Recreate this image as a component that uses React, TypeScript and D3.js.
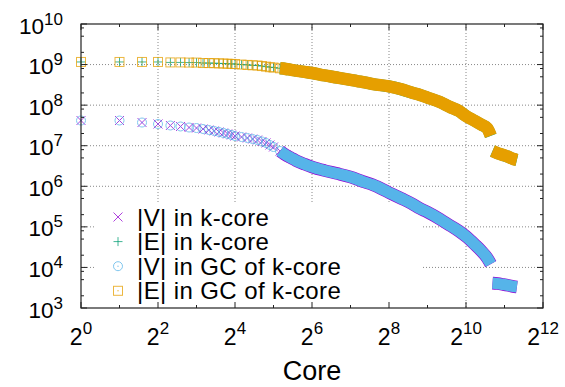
import * as d3 from "d3";

// core numbers (k) for the main part of the curves
const cores = [1, 2, 3, 4, 5, 6, 7, 8, 9, 10, 11, 12, 13, 14, 15, 16, 18, 20, 22, 24, 26, 28, 30, 32, 36, 40, 44, 48, 56, 64, 80, 100, 128, 160, 192, 256, 320, 384, 448, 512, 640, 768, 900, 1024, 1200, 1350, 1500, 1600];

// |E| (edges) - the k-core and its giant component overlap at this size
const edgesKCore = [1.16e9, 1.16e9, 1.16e9, 1.16e9, 1.13e9, 1.13e9, 1.12e9, 1.12e9, 1.09e9, 1.09e9, 1.08e9, 1.07e9, 1.06e9, 1.05e9, 1.04e9, 1.03e9, 1.0e9, 9.8e8, 9.6e8, 9.5e8, 9.2e8, 8.9e8, 8.6e8, 8.45e8, 8.1e8, 7.8e8, 7.4e8, 7.1e8, 6.6e8, 6.2e8, 5.4e8, 4.8e8, 4.2e8, 3.7e8, 3.3e8, 2.9e8, 2.45e8, 2.05e8, 1.78e8, 1.54e8, 1.19e8, 9.0e7, 7.2e7, 5.4e7, 4.1e7, 3.3e7, 2.7e7, 1.75e7];
const edgesGC = edgesKCore;

// |V| (vertices)
const vertsKCore = [4.18e7, 4.18e7, 3.73e7, 3.43e7, 3.15e7, 2.98e7, 2.81e7, 2.73e7, 2.58e7, 2.44e7, 2.31e7, 2.18e7, 2.06e7, 1.95e7, 1.84e7, 1.73e7, 1.64e7, 1.55e7, 1.46e7, 1.38e7, 1.27e7, 1.17e7, 1.04e7, 9.3e6, 7.4e6, 5.9e6, 5.0e6, 4.3e6, 3.5e6, 3.0e6, 2.45e6, 2.07e6, 1.69e6, 1.31e6, 1.08e6, 7.0e5, 5.0e5, 3.77e5, 2.83e5, 2.32e5, 1.56e5, 1.08e5, 7.9e4, 5.8e4, 3.67e4, 2.54e4, 1.71e4, 1.21e4];
const vertsGC = vertsKCore;

// after the drop at the top cores
const tailCores = [1650, 1800, 2000, 2200, 2400, 2560];
const tailEdges = [7.4e6, 6.6e6, 5.9e6, 5.3e6, 4.7e6, 4.45e6];
const tailVerts = [4.1e3, 4.0e3, 3.8e3, 3.6e3, 3.4e3, 3.3e3];

const xExps = [0, 2, 4, 6, 8, 10, 12];
const yExps = [3, 4, 5, 6, 7, 8, 9, 10];

const legendLabels = ["|V| in k-core", "|E| in k-core", "|V| in GC of k-core", "|E| in GC of k-core"];

const left = 81, right = 543, top = 24, bottom = 308;
const font = "'Liberation Sans', Arial, Helvetica, sans-serif";

function Marker(props) {
  const { kind, x, y, color } = props;
  const s = 4.5;
  if (kind == "x")
    return <path d={`M${x - s},${y - s}L${x + s},${y + s}M${x - s},${y + s}L${x + s},${y - s}`} stroke={color} strokeWidth={1} fill="none" />;
  if (kind == "+")
    return <path d={`M${x - s},${y}H${x + s}M${x},${y - s}V${y + s}`} stroke={color} strokeWidth={1} fill="none" />;
  if (kind == "o")
    return (
      <g>
        <circle cx={x} cy={y} r={s} stroke={color} strokeWidth={1} fill="none" />
        <circle cx={x} cy={y} r={0.7} fill={color} />
      </g>
    );
  return (
    <g>
      <rect x={x - s} y={y - s} width={2 * s} height={2 * s} stroke={color} strokeWidth={1} fill="none" />
      <circle cx={x} cy={y} r={0.7} fill={color} />
    </g>
  );
}

export default function App() {
  const xScale = d3.scaleLog().base(2).domain([1, 4096]).range([left, right]);
  const yScale = d3.scaleLog().domain([1e3, 1e10]).range([bottom, top]);

  const series = [
    { label: legendLabels[0], kind: "x", color: "#9400D3", values: vertsKCore, tail: tailVerts, band: 12.6 },
    { label: legendLabels[1], kind: "+", color: "#009E73", values: edgesKCore, tail: tailEdges, band: 12 },
    { label: legendLabels[2], kind: "o", color: "#56B4E9", values: vertsGC, tail: tailVerts, band: 11.4 },
    { label: legendLabels[3], kind: "s", color: "#E69F00", values: edgesGC, tail: tailEdges, band: 12.5 },
  ];

  const line = d3.line().x((d) => xScale(d[0])).y((d) => yScale(d[1])).curve(d3.curveMonotoneX);

  // minor ticks
  const xMinor = [1, 3, 5, 7, 9, 11].map((e) => Math.pow(2, e));
  const yMinor = [];
  yExps.slice(0, -1).forEach((e) => {
    [2, 5, 8].forEach((m) => yMinor.push(m * Math.pow(10, e)));
  });

  return (
    <svg width={565} height={387} style={{ position: "absolute", left: 0, top: 0, background: "#fff" }} fontFamily={font}>
      {/* grid */}
      {xExps.slice(1, -1).map((e) => (
        <line key={"gx" + e} x1={xScale(2 ** e)} x2={xScale(2 ** e)} y1={top} y2={bottom} stroke="#888" strokeWidth={1} strokeDasharray="1,2" />
      ))}
      {yExps.slice(1, -1).map((e) => (
        <line key={"gy" + e} x1={left} x2={right} y1={yScale(10 ** e)} y2={yScale(10 ** e)} stroke="#888" strokeWidth={1} strokeDasharray="1,2" />
      ))}

      {/* key background */}
      <rect x={96} y={203} width={327} height={104} fill="#fff" />

      {/* data: open markers where the cores are sparse, a solid band where they pile up */}
      {series.map((s) => {
        const pts = cores.map((k, i) => [k, s.values[i]]);
        const tailPts = tailCores.map((k, i) => [k, s.tail[i]]);
        const sparse = pts.filter((p) => p[0] <= 44);
        const dense = pts.filter((p) => p[0] >= 36);
        return (
          <g key={s.label}>
            {sparse.map((p, i) => (
              <g key={i} opacity={0.75}>
                <Marker kind={s.kind} x={xScale(p[0])} y={yScale(p[1])} color={s.color} />
              </g>
            ))}
            <path d={line(dense)} fill="none" stroke={s.color} strokeWidth={s.band} />
            <path d={line(tailPts)} fill="none" stroke={s.color} strokeWidth={s.band} />
          </g>
        );
      })}

      {/* frame and ticks */}
      <rect x={left} y={top} width={right - left} height={bottom - top} fill="none" stroke="#222" strokeWidth={1.2} />
      {xExps.map((e) => (
        <g key={"tx" + e}>
          <line x1={xScale(2 ** e)} x2={xScale(2 ** e)} y1={bottom} y2={bottom - 6} stroke="#222" />
          <line x1={xScale(2 ** e)} x2={xScale(2 ** e)} y1={top} y2={top + 6} stroke="#222" />
        </g>
      ))}
      {xMinor.map((v) => (
        <g key={"mx" + v}>
          <line x1={xScale(v)} x2={xScale(v)} y1={bottom} y2={bottom - 3} stroke="#222" />
          <line x1={xScale(v)} x2={xScale(v)} y1={top} y2={top + 3} stroke="#222" />
        </g>
      ))}
      {yExps.map((e) => (
        <g key={"ty" + e}>
          <line x1={left} x2={left + 6} y1={yScale(10 ** e)} y2={yScale(10 ** e)} stroke="#222" />
          <line x1={right} x2={right - 6} y1={yScale(10 ** e)} y2={yScale(10 ** e)} stroke="#222" />
        </g>
      ))}
      {yMinor.map((v) => (
        <g key={"my" + v}>
          <line x1={left} x2={left + 3} y1={yScale(v)} y2={yScale(v)} stroke="#222" />
          <line x1={right} x2={right - 3} y1={yScale(v)} y2={yScale(v)} stroke="#222" />
        </g>
      ))}

      {/* tick labels */}
      {yExps.map((e) => (
        <text key={"ly" + e} x={63} y={yScale(10 ** e) + 9.5} textAnchor="end" fontSize={22.5} fill="#000">
          <tspan>10</tspan>
          <tspan dy={-9} fontSize={17}>{e}</tspan>
        </text>
      ))}
      {xExps.map((e) => (
        <text key={"lx" + e} x={xScale(2 ** e)} y={345} textAnchor="middle" fontSize={23} fill="#000">
          <tspan>2</tspan>
          <tspan dy={-11} fontSize={17}>{e}</tspan>
        </text>
      ))}
      <text x={312} y={380} textAnchor="middle" fontSize={27} fill="#000">Core</text>

      {/* key */}
      {series.map((s, i) => {
        const cy = 217 + i * 24.6;
        return (
          <g key={"key" + i}>
            <g opacity={0.75}>
              <Marker kind={s.kind} x={118} y={cy} color={s.color} />
            </g>
            <text x={137} y={cy + 8.5} fontSize={24} letterSpacing={0.4} fill="#000">{s.label}</text>
          </g>
        );
      })}
    </svg>
  );
}
